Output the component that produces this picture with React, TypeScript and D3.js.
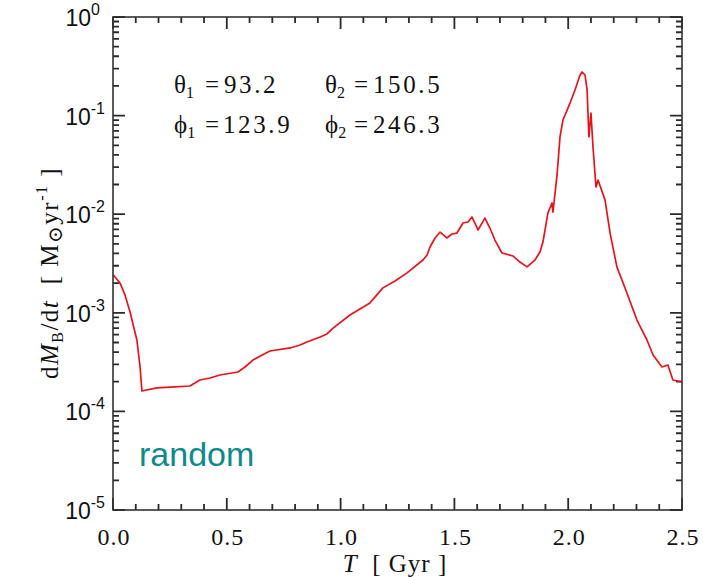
import React from "react";
import * as d3 from "d3";

const T_GYR = [0, 0.009, 0.031, 0.053, 0.075, 0.092, 0.105, 0.119, 0.127, 0.193, 0.272, 0.338, 0.36, 0.382, 0.426, 0.47, 0.549, 0.58, 0.615, 0.655, 0.69, 0.778, 0.822, 0.852, 0.91, 0.94, 0.967, 1.041, 1.129, 1.186, 1.239, 1.292, 1.362, 1.38, 1.393, 1.415, 1.437, 1.467, 1.489, 1.511, 1.538, 1.56, 1.577, 1.604, 1.634, 1.656, 1.678, 1.709, 1.757, 1.788, 1.819, 1.854, 1.876, 1.889, 1.911, 1.929, 1.933, 1.951, 1.964, 1.977, 2.008, 2.03, 2.052, 2.061, 2.074, 2.083, 2.091, 2.1, 2.109, 2.122, 2.131, 2.162, 2.184, 2.214, 2.258, 2.302, 2.346, 2.373, 2.412, 2.438, 2.46, 2.5];
const DMDT = [2.42e-3, 2.31e-3, 2.0e-3, 1.51e-3, 1.02e-3, 7.0e-4, 5.3e-4, 2.82e-4, 1.61e-4, 1.73e-4, 1.77e-4, 1.81e-4, 1.94e-4, 2.08e-4, 2.18e-4, 2.34e-4, 2.51e-4, 2.82e-4, 3.32e-4, 3.73e-4, 4.1e-4, 4.4e-4, 4.71e-4, 5.06e-4, 5.69e-4, 6.1e-4, 7.0e-4, 9.5e-4, 1.26e-3, 1.79e-3, 2.1e-3, 2.54e-3, 3.43e-3, 3.85e-3, 4.65e-3, 5.74e-3, 6.59e-3, 5.74e-3, 6.3e-3, 6.44e-3, 8.15e-3, 8.34e-3, 9.38e-3, 6.92e-3, 9.14e-3, 7.24e-3, 5.47e-3, 4.04e-3, 3.77e-3, 3.27e-3, 2.92e-3, 3.43e-3, 4.14e-3, 5.22e-3, 1.03e-2, 1.3e-2, 1.05e-2, 2.5e-2, 6.07e-2, 9.02e-2, 0.134, 0.182, 0.258, 0.277, 0.258, 0.182, 0.0607, 0.106, 0.0481, 0.0189, 0.0222, 0.0139, 6.44e-3, 2.92e-3, 1.59e-3, 8.45e-4, 5.3e-4, 3.73e-4, 2.82e-4, 2.96e-4, 2.08e-4, 1.99e-4];

const X_TICKS = [0, 0.5, 1.0, 1.5, 2.0, 2.5];
const X_TICK_LABELS = ["0.0", "0.5", "1.0", "1.5", "2.0", "2.5"];
const Y_EXPONENTS = [0, -1, -2, -3, -4, -5];

const W = 703;
const H = 577;
const L = 113, R = 682, TOP = 17, BOT = 510;

export default function App() {
  const x = d3.scaleLinear().domain([0, 2.5]).range([L, R]);
  const y = d3.scaleLog().domain([1e-5, 1]).range([BOT, TOP]);
  const lineGen = d3.line<number>().x((_, i) => x(T_GYR[i])).y((d) => y(d));
  const pathD = lineGen(DMDT) || "";

  const xMinor: number[] = [];
  for (let i = 0; i <= 25; i++) if (i % 5 !== 0) xMinor.push(i / 10);
  const yMinor: number[] = [];
  for (let e = -5; e < 0; e++) for (let k = 2; k <= 9; k++) yMinor.push(k * Math.pow(10, e));

  const axisColor = "#333";
  const serif = "'Liberation Serif', 'DejaVu Serif', serif";
  const sans = "'Liberation Sans', Arial, sans-serif";
  const MAJ = 12, MIN = 6;

  let ticks = "";
  X_TICKS.forEach((t) => {
    const xx = x(t);
    ticks += `M${xx},${BOT}V${BOT - MAJ}M${xx},${TOP}V${TOP + MAJ}`;
  });
  xMinor.forEach((t) => {
    const xx = x(t);
    ticks += `M${xx},${BOT}V${BOT - MIN}M${xx},${TOP}V${TOP + MIN}`;
  });
  Y_EXPONENTS.forEach((e) => {
    const yy = y(Math.pow(10, e));
    ticks += `M${L},${yy}H${L + MAJ}M${R},${yy}H${R - MAJ}`;
  });
  yMinor.forEach((v) => {
    const yy = y(v);
    ticks += `M${L},${yy}H${L + MIN}M${R},${yy}H${R - MIN}`;
  });

  const ann = { fontFamily: serif, fontSize: 25, fill: "#111" } as const;
  const num = { letterSpacing: 2.6 } as const;

  return (
    <svg width={W} height={H} style={{ position: "absolute", left: 0, top: 0 }}>
      <path d={ticks} fill="none" stroke="#2a2a2a" strokeWidth={1.8} />
      <path d={pathD} fill="none" stroke="#e8141c" strokeWidth={1.7} strokeLinejoin="round" />
      <rect x={L} y={TOP} width={R - L} height={BOT - TOP} fill="none" stroke={axisColor} strokeWidth={1.6} />

      {X_TICKS.map((t, i) => (
        <text key={"xl" + t} x={x(t) + 1} y={545} textAnchor="middle" fontFamily={serif} fontSize={24} letterSpacing={1} fill="#111">
          {X_TICK_LABELS[i]}
        </text>
      ))}
      {Y_EXPONENTS.map((e) => (
        <text key={"yl" + e} x={e === 0 ? 100 : 105} y={y(Math.pow(10, e)) + 9} textAnchor="end" fontFamily={sans} fontSize={23} fill="#111">
          10
          <tspan fontSize={16} dy={-11}>{String(e)}</tspan>
        </text>
      ))}

      <text x={395} y={572} textAnchor="middle" fontFamily={serif} fontSize={25} letterSpacing={1} fill="#111" style={{ whiteSpace: "pre" }}>
        <tspan fontStyle="italic">T</tspan>
        <tspan>{"  [ Gyr ]"}</tspan>
      </text>

      <text transform="translate(58,273) rotate(-90)" textAnchor="middle" fontFamily={serif} fontSize={25} letterSpacing={1.5} fill="#111" style={{ whiteSpace: "pre" }}>
        <tspan>d</tspan>
        <tspan fontStyle="italic">M</tspan>
        <tspan fontSize={16} dy={5}>B</tspan>
        <tspan dy={-5}>/d</tspan>
        <tspan fontStyle="italic">t</tspan>
        <tspan>{"  [ M"}</tspan>
        <tspan fontSize={20} dy={4}>⊙</tspan>
        <tspan dy={-4}>{"yr"}</tspan>
        <tspan fontSize={16} dy={-11}>-1</tspan>
        <tspan dy={11}>{" ]"}</tspan>
      </text>

      <g {...ann}>
        <text x={174} y={93}>θ<tspan fontSize={16} dy={5}>1</tspan></text>
        <text x={205} y={93}>=</text>
        <text x={224} y={93} {...num}>93.2</text>
        <text x={325} y={93}>θ<tspan fontSize={16} dy={5}>2</tspan></text>
        <text x={354} y={93}>=</text>
        <text x={373} y={93} {...num}>150.5</text>
        <text x={174} y={133}>ϕ<tspan fontSize={16} dy={5}>1</tspan></text>
        <text x={205} y={133}>=</text>
        <text x={223} y={133} {...num}>123.9</text>
        <text x={325} y={133}>ϕ<tspan fontSize={16} dy={5}>2</tspan></text>
        <text x={354} y={133}>=</text>
        <text x={373} y={133} {...num}>246.3</text>
      </g>

      <text x={139} y={466} fontFamily={sans} fontSize={34} fill="#0e8a8a">random</text>
    </svg>
  );
}
